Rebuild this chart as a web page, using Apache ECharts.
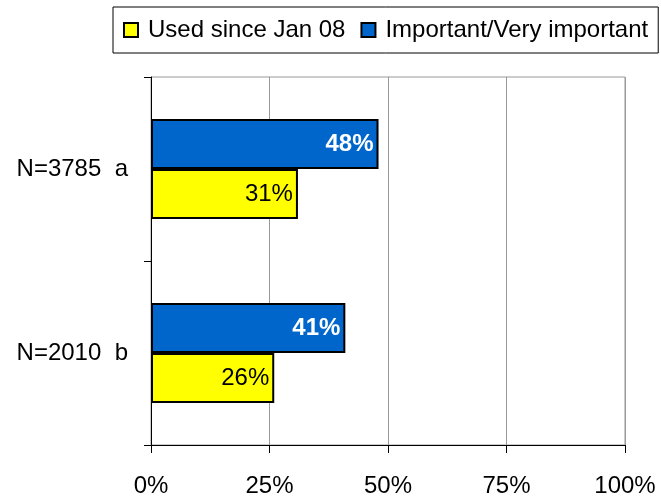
<!DOCTYPE html>
<html>
<head>
<meta charset="utf-8">
<script src="https://cdn.jsdelivr.net/npm/echarts@6/dist/echarts.min.js"></script>
<style>
  html, body { margin: 0; padding: 0; background: #fff; }
  #chart { width: 661px; height: 498px; }
</style>
</head>
<body>
<div id="chart"></div>
<script>
// Groups, listed top to bottom as they appear on the chart
const categories = ['N=3785  a', 'N=2010  b'];
const seriesNames = ['Used since Jan 08', 'Important/Very important'];
const usedValues = [31, 26];
const importantValues = [48, 41];
const xTicks = [0, 25, 50, 75, 100];

const FONT = '"Liberation Sans", Arial, sans-serif';

// The category axis runs bottom-to-top, so feed the groups reversed
const yCats = categories.slice().reverse();
const usedData = usedValues.slice().reverse();
const importantData = importantValues.slice().reverse();

const chart = echarts.init(document.getElementById('chart'));
chart.setOption({
  animation: false,
  backgroundColor: '#fff',
  textStyle: { fontFamily: FONT },
  legend: {
    left: 113,
    top: 7,
    padding: [10, 10],
    itemGap: 15,
    itemWidth: 14,
    itemHeight: 14,
    icon: 'rect',
    borderColor: '#000',
    borderWidth: 1,
    data: seriesNames,
    textStyle: { fontFamily: FONT, fontSize: 24, color: '#000', padding: [0, 0, 0, 5], lineHeight: 26 }
  },
  grid: {
    left: 151, right: 36, top: 77, bottom: 53,
    show: true, borderColor: '#999', borderWidth: 1
  },
  xAxis: {
    type: 'value',
    min: xTicks[0],
    max: xTicks[xTicks.length - 1],
    interval: xTicks[1] - xTicks[0],
    axisLine: { show: true, lineStyle: { color: '#000', width: 1 } },
    axisTick: { show: true, length: 8, lineStyle: { color: '#000' } },
    splitLine: { show: true, lineStyle: { color: '#999', width: 1 } },
    axisLabel: {
      margin: 29, fontFamily: FONT, fontSize: 24, color: '#000',
      formatter: v => v + '%'
    }
  },
  yAxis: {
    type: 'category',
    data: yCats,
    axisLine: { show: true, lineStyle: { color: '#000', width: 1 } },
    axisTick: { show: true, length: 7, alignWithLabel: false, lineStyle: { color: '#000' } },
    splitLine: { show: false },
    axisLabel: { margin: 23, fontFamily: FONT, fontSize: 24, color: '#000' }
  },
  // Blue series listed first so it sits above the yellow one in each group
  series: [
    {
      name: seriesNames[1],
      type: 'bar',
      data: importantData,
      barWidth: 50,
      barGap: '0%',
      itemStyle: { color: '#0066CC', borderColor: '#000', borderWidth: 2 },
      label: {
        show: true, position: 'insideRight', distance: 5,
        fontFamily: FONT, fontSize: 24, fontWeight: 'bold', color: '#fff',
        formatter: p => p.value + '%'
      }
    },
    {
      name: seriesNames[0],
      type: 'bar',
      data: usedData,
      barWidth: 50,
      barGap: '0%',
      itemStyle: { color: '#FFFF00', borderColor: '#000', borderWidth: 2 },
      label: {
        show: true, position: 'insideRight', distance: 5,
        fontFamily: FONT, fontSize: 24, color: '#000',
        formatter: p => p.value + '%'
      }
    }
  ]
});
</script>
</body>
</html>
